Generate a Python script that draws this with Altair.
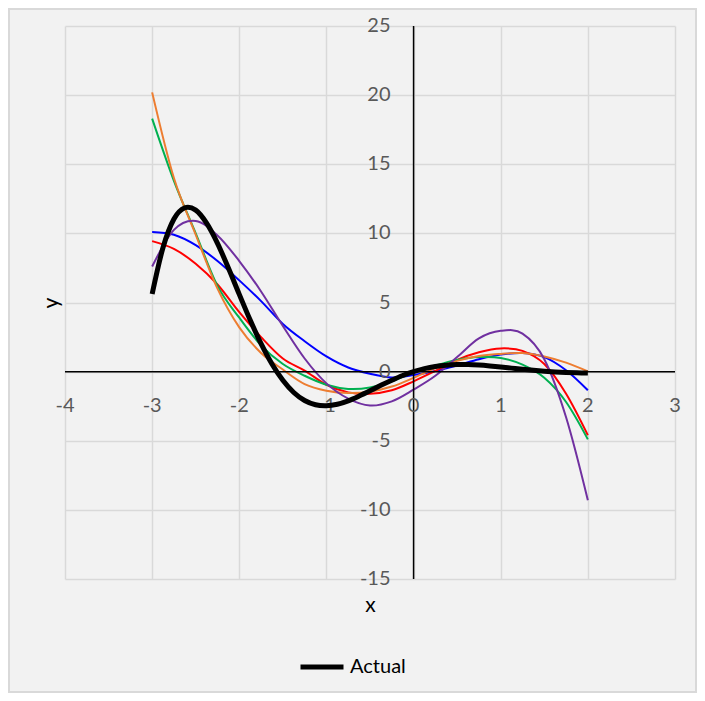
import altair as alt
import pandas as pd

# ---- data ----
x_fit = [-3, -2.75, -2.5, -2.25, -2, -1.75, -1.5, -1.25, -1, -0.75, -0.5, -0.25,
         0, 0.25, 0.5, 0.75, 1, 1.25, 1.5, 1.75, 2]
fit_blue = [10.1, 9.9, 9.15, 8.0, 6.6, 5.1, 3.45, 2.2, 1.1, 0.3, -0.15, -0.42,
            -0.25, 0.05, 0.45, 0.9, 1.23, 1.35, 1.05, 0.1, -1.35]
fit_red = [9.44, 8.88, 7.8, 6.3, 4.3, 2.5, 0.95, 0.08, -0.95, -1.5, -1.6, -1.35,
           -0.7, 0.05, 0.85, 1.4, 1.68, 1.5, 0.55, -1.6, -4.6]
fit_green = [18.3, 13.8, 10.0, 6.2, 3.9, 1.9, 0.55, -0.3, -0.95, -1.25, -1.15, -0.7,
             -0.05, 0.45, 0.85, 1.05, 0.99, 0.5, -0.45, -2.2, -4.9]
fit_orange = [20.2, 14.0, 9.9, 6.0, 3.2, 1.35, 0.15, -0.9, -1.38, -1.55, -1.45, -1.08,
              -0.45, 0.25, 0.78, 1.13, 1.28, 1.35, 1.1, 0.65, 0.02]
fit_purple = [7.6, 10.25, 10.9, 9.85, 8.0, 5.8, 3.3, 0.95, -0.85, -1.95, -2.45, -2.15,
              -1.3, -0.3, 1.05, 2.4, 2.95, 2.75, 0.9, -3.3, -9.3]

x_act = [-3, -2.875, -2.75, -2.625, -2.5, -2.375, -2.25, -2.125, -2, -1.875, -1.75,
         -1.625, -1.5, -1.375, -1.25, -1.125, -1, -0.875, -0.75, -0.625, -0.5,
         -0.375, -0.25, -0.125, 0, 0.125, 0.25, 0.375, 0.5, 0.625, 0.75, 0.875,
         1, 1.125, 1.25, 1.375, 1.5, 1.625, 1.75, 1.875, 2]
actual = [5.61, 8.98, 11.04, 11.85, 11.68, 10.74, 9.28, 7.49, 5.59, 3.73, 2.02,
          0.55, -0.63, -1.51, -2.09, -2.40, -2.47, -2.36, -2.11, -1.77, -1.39,
          -0.99, -0.62, -0.28, 0.0, 0.218, 0.373, 0.468, 0.510, 0.508, 0.471, 0.410,
          0.335, 0.253, 0.171, 0.097, 0.031, -0.021, -0.061, -0.088, -0.102]

x_ticks = [-4, -3, -2, -1, 0, 1, 2, 3]
y_ticks = [-15, -10, -5, 0, 5, 10, 15, 20, 25]

fit_names = ["Fit 1", "Fit 2", "Fit 3", "Fit 4", "Fit 5"]
fit_colors = ["#0000FF", "#FF0000", "#00B050", "#ED7D31", "#7030A0"]
fit_series = [fit_blue, fit_red, fit_green, fit_orange, fit_purple]

# ---- tables ----
rows = []
for name, vals in zip(fit_names, fit_series):
    for xv, yv in zip(x_fit, vals):
        rows.append({"x": xv, "y": yv, "fit": name})
df_fit = pd.DataFrame(rows)
df_act = pd.DataFrame({"x": x_act, "y": actual, "series": "Actual"})
df_xlab = pd.DataFrame({"x": x_ticks, "y": 0, "lab": [str(v) for v in x_ticks]})
df_ylab = pd.DataFrame({"x": 0, "y": y_ticks, "lab": [str(v) for v in y_ticks]})
df_zero = pd.DataFrame({"x": [0], "y": [0]})

FONT = "Lato"
W, H = 610, 553

xs = alt.Scale(domain=[-4, 3], nice=False, zero=False)
ys = alt.Scale(domain=[-15, 25], nice=False, zero=False)

x_axis = alt.Axis(values=x_ticks, grid=True, labels=False, ticks=False, domain=False,
                  title="x", titleFont=FONT, titleFontSize=21, titleFontWeight="normal",
                  titleColor="black", titlePadding=15,
                  gridColor="#d9d9d9", gridWidth=1.5)
y_axis = alt.Axis(values=y_ticks, grid=True, labels=False, ticks=False, domain=False,
                  title="y", titleFont=FONT, titleFontSize=21, titleFontWeight="normal",
                  titleColor="black", titlePadding=4,
                  gridColor="#d9d9d9", gridWidth=1.5)

X = alt.X("x:Q", scale=xs, axis=x_axis)
Y = alt.Y("y:Q", scale=ys, axis=y_axis)

fits = alt.Chart(df_fit).mark_line(strokeWidth=2, interpolate="cardinal").encode(
    x=X, y=Y,
    color=alt.Color("fit:N", scale=alt.Scale(domain=fit_names, range=fit_colors), legend=None),
)

vrule = alt.Chart(df_zero).mark_rule(color="black", strokeWidth=1.5).encode(x=X)
hrule = alt.Chart(df_zero).mark_rule(color="black", strokeWidth=1.5).encode(y=Y)

xlab = alt.Chart(df_xlab).mark_text(dy=34, font=FONT, fontSize=20, color="#595959",
                                    baseline="middle").encode(x=X, y=Y, text="lab:N")
ylab = alt.Chart(df_ylab).mark_text(dx=-23, align="right", baseline="middle", font=FONT,
                                    fontSize=20, color="#595959").encode(x=X, y=Y, text="lab:N")

act = alt.Chart(df_act).mark_line(strokeWidth=5, interpolate="cardinal").encode(
    x=X, y=Y,
    color=alt.Color("series:N", scale=alt.Scale(domain=["Actual"], range=["black"]),
                    legend=alt.Legend(orient="none", legendX=233, legendY=617, title=None,
                                      symbolType="stroke", symbolStrokeWidth=5,
                                      symbolSize=1849, labelFont=FONT, labelFontSize=20,
                                      labelColor="black", labelOffset=4)),
)

border = alt.Chart(df_zero).mark_rect(fill="transparent", stroke="#d9d9d9", strokeWidth=2).encode(
    x=alt.value(-56), x2=alt.value(W + 21), y=alt.value(-17), y2=alt.value(H + 113)
)

chart = alt.layer(border, fits, vrule, hrule, xlab, ylab, act).resolve_scale(
    color="independent"
).properties(
    width=W, height=H,
    padding={"left": 57, "top": 18, "right": 22, "bottom": 114},
    autosize=alt.AutoSizeParams(type="none"),
    background="#f2f2f2",
).configure_view(stroke=None)

chart.save("out.html", embed_options={"renderer": "svg", "actions": False})
